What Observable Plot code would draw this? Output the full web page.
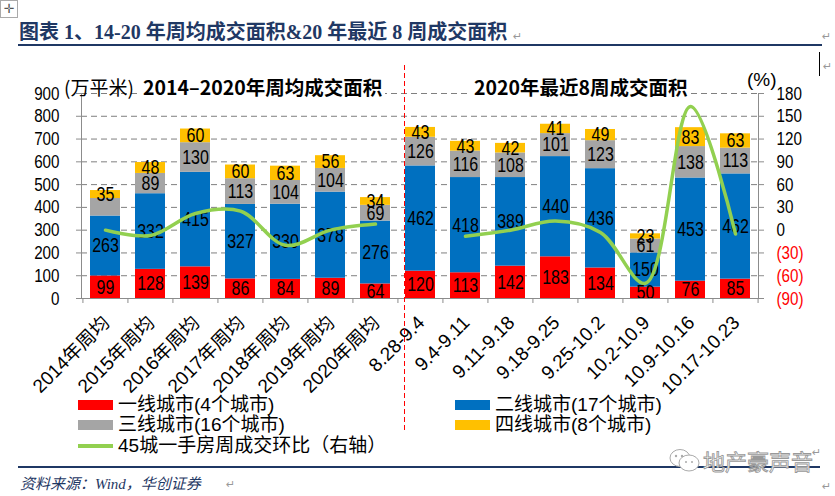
<!DOCTYPE html>
<html><head><meta charset="utf-8">
<script src="https://cdn.jsdelivr.net/npm/d3@7"></script>
<script src="https://cdn.jsdelivr.net/npm/@observablehq/plot@0.6"></script>
<style>
body{margin:0;background:#fff;}
#wrap{position:relative;width:835px;height:496px;overflow:hidden;background:#fff;
  font-family:"Liberation Sans","Noto Sans CJK SC",sans-serif;color:#000;}
.abs{position:absolute;white-space:nowrap;}
#chart{position:absolute;left:0;top:50px;}
.sw{position:absolute;}
.lg{position:absolute;font-size:19px;line-height:20px;white-space:nowrap;}
.pm{position:absolute;font-size:11px;color:#999;font-family:"DejaVu Sans",sans-serif;}
</style></head><body>
<div id="wrap">
  <div class="abs" style="left:0;top:0;width:16px;height:16px;border:1px solid #aaa;font-size:13px;line-height:16px;text-align:center;color:#555;font-family:'DejaVu Sans';">✛</div>
  <div class="abs" id="title" style="left:19px;top:20px;font-size:20px;font-weight:bold;color:#1F3864;font-family:'Liberation Serif','Noto Sans CJK SC',serif;line-height:24px;">图表 1、14-20 年周均成交面积&amp;20 年最近 8 周成交面积</div>
  <div class="pm" style="left:513px;top:30px;">↵</div>
  <div class="pm" style="left:822px;top:30px;">↵</div>
  <div class="abs" style="left:18px;top:44px;width:804px;height:2px;background:#1F3864;"></div>
  <div class="abs" style="left:819px;top:52px;width:1px;height:24px;background:#000;"></div>
  <div class="pm" style="left:823px;top:60px;">↵</div>
  <div id="chart"></div>
  <div class="abs" style="left:64px;top:76px;font-size:19px;line-height:22px;font-family:'Noto Sans CJK SC',sans-serif;">(万平米)</div>
  <div class="abs" style="left:140px;top:76px;font-size:19.5px;line-height:22px;font-weight:bold;font-family:'Noto Sans CJK SC',sans-serif;background:#fff;padding:0 3px;">2014–2020年周均成交面积</div>
  <div class="abs" style="left:471px;top:76px;font-size:19.5px;line-height:22px;font-weight:bold;font-family:'Noto Sans CJK SC',sans-serif;background:#fff;padding:0 3px;">2020年最近8周成交面积</div>
  <div class="abs" style="left:747px;top:69px;font-size:19px;line-height:22px;">(%)</div>
  <div id="legend"></div>
  <div class="abs" style="left:18px;top:466px;width:802px;height:2px;background:#1F3864;"></div>
  <svg class="abs" style="left:668px;top:447px;" width="34" height="28" viewBox="0 0 34 28">
    <ellipse cx="12" cy="11" rx="10" ry="8.5" fill="#fff" stroke="#aaa" stroke-width="1"/>
    <ellipse cx="21" cy="16" rx="10" ry="8" fill="#fff" stroke="#aaa" stroke-width="1"/>
    <circle cx="8" cy="9" r="1.2" fill="#aaa"/><circle cx="14" cy="9" r="1.2" fill="#aaa"/>
    <circle cx="18" cy="15" r="1" fill="#aaa"/><circle cx="24" cy="15" r="1" fill="#aaa"/>
  </svg>
  <div class="abs" style="left:703px;top:447px;font-size:22px;line-height:26px;font-family:'Noto Sans CJK SC',sans-serif;color:#fff;-webkit-text-stroke:0.9px #999;">地产豪声音</div>
  <div class="pm" style="left:812px;top:446px;">↵</div>
  <div class="abs" style="left:20px;top:474px;font-size:15px;line-height:20px;font-style:italic;color:#1F3864;font-family:'Liberation Serif','Noto Sans CJK SC',serif;">资料来源：Wind，华创证券</div>
  <div class="pm" style="left:226px;top:478px;">↵</div>
  <div class="pm" style="left:822px;top:480px;">↵</div>
</div>
<script>
const categories = ["2014年周均","2015年周均","2016年周均","2017年周均","2018年周均","2019年周均","2020年周均",
  "8.28-9.4","9.4-9.11","9.11-9.18","9.18-9.25","9.25-10.2","10.2-10.9","10.9-10.16","10.17-10.23"];
const tier1 = [99,128,139,86,84,89,64,120,113,142,183,134,50,76,85];
const tier2 = [263,332,415,327,330,378,276,462,418,389,440,436,150,453,462];
const tier3 = [77,89,130,113,104,104,69,126,116,108,101,123,61,138,113];
const tier4 = [35,48,60,60,63,56,34,43,43,42,41,49,23,83,63];
const tierNames = ["一线城市(4个城市)","二线城市(17个城市)","三线城市(16个城市)","四线城市(8个城市)"];
const tierColors = ["#FF0000","#0070C0","#A5A5A5","#FFC000"];
const hiddenLabels = [["2014年周均","三线城市(16个城市)"]];
const lineName = "45城一手房周成交环比（右轴）";
const lineColor = "#92D050";
const annualLineCats = categories.slice(0,7);
const annualLine = [0,-7,22,25,-20,0,8];
const weeklyLineCats = categories.slice(8);
const weeklyLine = [-8,0,12,-3,-70,163,-5];
const leftTicks = [0,100,200,300,400,500,600,700,800,900];
const rightTicks = [-90,-60,-30,0,30,60,90,120,150,180];
const separatorAt = "8.28-9.4";

const tiers = [tier1,tier2,tier3,tier4];
const barData = [];
categories.forEach((c,i) => tiers.forEach((t,k) => barData.push({cat:c, tier:tierNames[k], value:t[i],
  show: !hiddenLabels.some(h => h[0]===c && h[1]===tierNames[k])})));
const lineData = [
  ...annualLineCats.map((c,i)=>({cat:c, v:annualLine[i], seg:"a"})),
  ...weeklyLineCats.map((c,i)=>({cat:c, v:weeklyLine[i], seg:"b"}))
];
// right axis (-90..180) mapped onto left axis (0..900)
const rMin = rightTicks[0], rMax = rightTicks[rightTicks.length-1], lMax = leftTicks[leftTicks.length-1];
const toLeft = r => (r - rMin) * (lMax / (rMax - rMin));
const fromLeft = v => v * (rMax - rMin) / lMax + rMin;
const fmtR = r => r < 0 ? `(${-r})` : `${r}`;

const W=835, H=390, ML=81, MR=77, MT=43, MB=142;
const step = (W-ML-MR)/categories.length;
const FONT = `"Liberation Sans","Noto Sans CJK SC",sans-serif`;
const AX = "#8c8c8c";

const plot = Plot.plot({
  width: W, height: H, marginLeft: ML, marginRight: MR, marginTop: MT, marginBottom: MB,
  style: {fontFamily: FONT, fontSize: "19px", color: "#000", background: "transparent", overflow: "visible"},
  x: {domain: categories, paddingInner: 0.335, paddingOuter: 0.1675, axis: null, label: null},
  y: {domain: [0, 900], axis: null, label: null},
  color: {domain: tierNames, range: tierColors},
  marks: [
    Plot.gridY(leftTicks.filter(t => t > 0), {stroke: "#7f7f7f", strokeOpacity: 1, strokeDasharray: "6,4", strokeWidth: 1}),
    Plot.barY(barData, {x: "cat", y: "value", fill: "tier"}),
    Plot.text(barData, Plot.stackY({x: "cat", y: "value", z: "tier", text: d => d.show ? String(d.value) : null, fontSize: 20, fill: "#000"})),
    Plot.line(lineData, {x: "cat", y: d => toLeft(d.v), z: "seg", stroke: lineColor, strokeWidth: 3.5, curve: "catmull-rom"}),
    Plot.ruleY([0], {stroke: AX}),
    Plot.frame({anchor: "left", stroke: AX}),
    Plot.frame({anchor: "right", stroke: AX}),
    Plot.ruleX(categories, {x: d => d, dx: -step/2, y1: 0, y2: 0, insetBottom: -5, stroke: AX}),
    Plot.ruleX([categories[categories.length-1]], {x: d => d, dx: step/2, y1: 0, y2: 0, insetBottom: -5, stroke: AX}),
    Plot.axisY({ticks: leftTicks, anchor: "left", label: null, tickSize: 5, tickPadding: 17, stroke: AX, fill: "#000", fontSize: 19}),
    Plot.axisY({ticks: rightTicks.filter(r => r >= 0).map(toLeft), anchor: "right", label: null, tickSize: 5, tickPadding: 13, stroke: AX, fill: "#000", fontSize: 19,
      tickFormat: v => fmtR(Math.round(fromLeft(v)))}),
    Plot.axisY({ticks: rightTicks.filter(r => r < 0).map(toLeft), anchor: "right", label: null, tickSize: 5, tickPadding: 13, stroke: AX, fill: "#FF0000", fontSize: 19,
      tickFormat: v => fmtR(Math.round(fromLeft(v)))}),
    Plot.axisX({anchor: "bottom", label: null, tickRotate: -45, tickSize: 0, tickPadding: 21, dx: 1, fontSize: 19, fill: "#000"}),
    Plot.ruleX([separatorAt], {x: d => d, dx: -16, stroke: "#FF0000", strokeDasharray: "5,3", strokeWidth: 1, insetTop: -28, insetBottom: -132})
  ]
});
// condense the chart's upright text horizontally (narrow face look)
const S = 0.8;
plot.querySelectorAll("text").forEach(t => {
  if (t.closest('g[aria-label="x-axis tick label"]')) return;
  let tr = t.getAttribute("transform") || "";
  const x = t.getAttribute("x"), y = t.getAttribute("y");
  if ((x !== null && !isNaN(+x)) || (y !== null && !isNaN(+y))) {
    tr += ` translate(${+x || 0},${+y || 0})`;
    t.removeAttribute("x"); t.removeAttribute("y");
  }
  t.setAttribute("transform", (tr + ` scale(${S},1)`).trim());
});
document.getElementById("chart").appendChild(plot);

// legend
const lg = document.getElementById("legend");
const legendItems = [
  {name: tierNames[0], color: tierColors[0], x: 78, y: 395, kind: "rect"},
  {name: tierNames[1], color: tierColors[1], x: 455, y: 395, kind: "rect"},
  {name: tierNames[2], color: tierColors[2], x: 78, y: 415, kind: "rect"},
  {name: tierNames[3], color: tierColors[3], x: 455, y: 415, kind: "rect"},
  {name: lineName, color: lineColor, x: 78, y: 436, kind: "line"}
];
legendItems.forEach(it => {
  const s = document.createElement("div");
  s.className = "sw";
  s.style.left = it.x + "px";
  s.style.width = "35px";
  s.style.background = it.color;
  if (it.kind === "rect") { s.style.top = (it.y + 5) + "px"; s.style.height = "10px"; }
  else { s.style.top = (it.y + 8) + "px"; s.style.height = "4px"; }
  lg.appendChild(s);
  const t = document.createElement("div");
  t.className = "lg";
  t.style.left = (it.x + 40) + "px";
  t.style.top = it.y + "px";
  t.textContent = it.name;
  lg.appendChild(t);
});
</script>
</body></html>
